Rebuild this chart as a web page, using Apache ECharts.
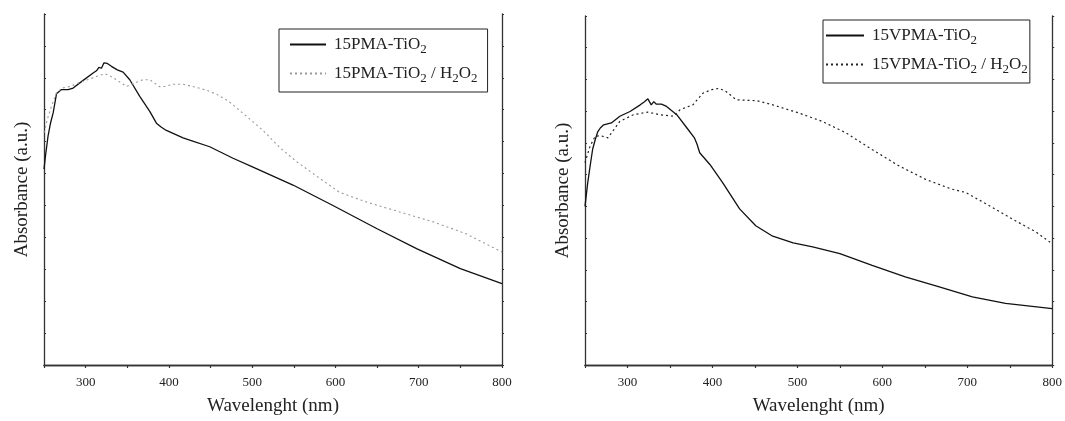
<!DOCTYPE html>
<html>
<head>
<meta charset="utf-8">
<script src="https://cdn.jsdelivr.net/npm/echarts@6/dist/echarts.min.js"></script>
<style>
html,body{margin:0;padding:0;background:#fff;}
#chart{width:1065px;height:421px;}
</style>
</head>
<body>
<div id="chart"></div>
<script>
// ---- Data (Absorbance in arbitrary units vs wavelength, nm) ----
const pmaX = [250,252,255,258,261,265,271,279,285,297,309,313,316,319,322,326,331,338,345,353,365,377,385,391,397,405,417,425,449,477,501,549,597,650,698,750,800];
const pmaY = [6.14,6.6,7.2,7.6,7.9,8.5,8.63,8.63,8.68,8.92,9.15,9.22,9.33,9.3,9.47,9.45,9.36,9.25,9.18,8.94,8.42,7.95,7.58,7.45,7.35,7.26,7.12,7.05,6.84,6.48,6.2,5.64,5.0,4.27,3.64,3.02,2.55];

const pmaH2X = [250,254,259,265,272,281,297,313,323,330,337,349,361,369,377,389,395,405,417,433,445,456,472,493,513,533,553,581,605,638,678,718,757,800];
const pmaH2Y = [7.28,7.7,8.11,8.53,8.68,8.73,8.89,9.04,9.13,9.05,8.94,8.73,8.86,8.94,8.94,8.72,8.73,8.8,8.8,8.7,8.61,8.5,8.26,7.8,7.35,6.82,6.38,5.85,5.41,5.1,4.79,4.48,4.11,3.54];

const vpmaX = [250,253,256,259,262,265,268,272,281,291,303,315,320,324,328,331,334,336,340,346,358,370,379,382,385,397,412,432,451,471,495,518,550,588,627,667,706,745,800];
const vpmaY = [5.0,5.7,6.27,6.8,7.1,7.35,7.47,7.57,7.63,7.84,7.99,8.2,8.3,8.39,8.2,8.3,8.22,8.27,8.22,8.15,7.89,7.47,7.15,6.95,6.69,6.32,5.75,4.92,4.39,4.06,3.85,3.72,3.51,3.14,2.78,2.46,2.15,1.94,1.78];

const vpmaH2X = [250,256,262,268,277,291,307,324,338,354,362,377,389,399,408,416,428,452,471,502,529,557,588,620,651,682,698,726,753,781,800];
const vpmaH2Y = [6.38,6.9,7.21,7.23,7.16,7.68,7.89,7.97,7.89,7.84,8.05,8.2,8.57,8.68,8.72,8.62,8.36,8.33,8.2,7.94,7.68,7.32,6.79,6.27,5.85,5.54,5.44,5.02,4.6,4.19,3.82];

const names = ['15PMA-TiO2','15PMA-TiO2 / H2O2','15VPMA-TiO2','15VPMA-TiO2 / H2O2'];
const xTitle = 'Wavelenght (nm)';
const yTitle = 'Absorbance (a.u.)';
const xMin = 250, xMax = 800, xStep = 50;
const yMin = 0, yMax = 11, yStep = 1;

function zip(xs, ys){ return xs.map((x,i)=>[x, ys[i]]); }

const FONT = 'Liberation Serif, Times New Roman, serif';
const AXC = '#333';

function bottomAxis(gi){
  return {type:'value', gridIndex:gi, position:'bottom', min:xMin, max:xMax, interval:xStep,
    name:xTitle, nameLocation:'middle', nameGap:32,
    nameTextStyle:{fontFamily:FONT, fontSize:19, color:'#222'},
    axisLine:{lineStyle:{color:AXC, width:1.3}},
    axisTick:{inside:false, length:3, lineStyle:{color:AXC, width:1.2}},
    axisLabel:{fontFamily:FONT, fontSize:13, color:'#222', margin:11,
      formatter:v => (v % 100 === 0 ? String(v) : '')},
    splitLine:{show:false}};
}
function topAxis(gi){
  return {type:'value', gridIndex:gi, position:'top', min:xMin, max:xMax, interval:xStep,
    axisLine:{lineStyle:{color:AXC, width:1.3}},
    axisTick:{inside:true, length:2, lineStyle:{color:AXC}},
    axisLabel:{show:false}, splitLine:{show:false}};
}
function leftAxis(gi){
  return {type:'value', gridIndex:gi, position:'left', min:yMin, max:yMax, interval:yStep,
    name:yTitle, nameLocation:'middle', nameGap:12, nameRotate:90,
    nameTextStyle:{fontFamily:FONT, fontSize:19, color:'#222'},
    axisLine:{show:true, lineStyle:{color:AXC, width:1.3}},
    axisTick:{show:true, inside:true, length:2, lineStyle:{color:AXC}},
    axisLabel:{show:false}, splitLine:{show:false}};
}
function rightAxis(gi){
  return {type:'value', gridIndex:gi, position:'right', min:yMin, max:yMax, interval:yStep,
    axisLine:{show:true, lineStyle:{color:AXC, width:1.3}},
    axisTick:{show:true, inside:false, length:2, lineStyle:{color:AXC}},
    axisLabel:{show:false}, splitLine:{show:false}};
}
function legendFmt(n){
  return n.replace(/([OH])2/g, '$1{s|2}');
}
function legend(data, left, top, padL, padR, itemW){
  return {data:data, orient:'vertical', left:left, top:top,
    borderColor:'#222', borderWidth:1, padding:[7,padR,7,padL], itemGap:9,
    itemWidth:itemW, itemHeight:14,
    itemStyle:{opacity:0},
    formatter:legendFmt,
    textStyle:{fontFamily:FONT, fontSize:17, color:'#222', padding:[0,0,0,3],
      rich:{s:{fontFamily:FONT, fontSize:13, color:'#222', padding:[10,0,0,0]}}}};
}

const chart = echarts.init(document.getElementById('chart'), null, {renderer:'canvas'});
chart.setOption({
  animation:false,
  backgroundColor:'#fff',
  grid:[
    {left:44, top:14, width:458, height:353},
    {left:585, top:16, width:468, height:351}
  ],
  xAxis:[bottomAxis(0), topAxis(0), bottomAxis(1), topAxis(1)],
  yAxis:[leftAxis(0), rightAxis(0), leftAxis(1), rightAxis(1)],
  legend:[
    legend([names[0], names[1]], 279, 29, 10, 10, 36),
    legend([names[2], names[3]], 823, 20, 2, 2, 38)
  ],
  series:[
    {name:names[0], type:'line', xAxisIndex:0, yAxisIndex:0, data:zip(pmaX,pmaY),
      showSymbol:false, symbol:'none', lineStyle:{color:'#111', width:1.3}, itemStyle:{color:'#111'}},
    {name:names[1], type:'line', xAxisIndex:0, yAxisIndex:0, data:zip(pmaH2X,pmaH2Y),
      showSymbol:false, symbol:'none', lineStyle:{color:'#999', width:1.1, type:[2,3]}, itemStyle:{color:'#999'}},
    {name:names[2], type:'line', xAxisIndex:2, yAxisIndex:2, data:zip(vpmaX,vpmaY),
      showSymbol:false, symbol:'none', lineStyle:{color:'#111', width:1.3}, itemStyle:{color:'#111'}},
    {name:names[3], type:'line', xAxisIndex:2, yAxisIndex:2, data:zip(vpmaH2X,vpmaH2Y),
      showSymbol:false, symbol:'none', lineStyle:{color:'#222', width:1.2, type:[2,3]}, itemStyle:{color:'#222'}}
  ]
});
</script>
</body>
</html>
